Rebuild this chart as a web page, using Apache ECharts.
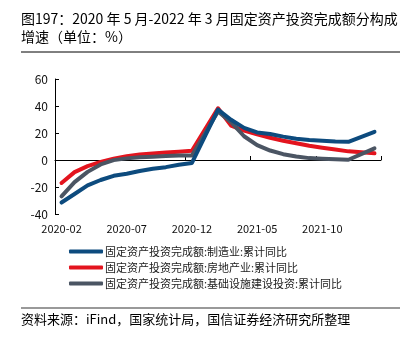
<!DOCTYPE html>
<html>
<head>
<meta charset="utf-8">
<script src="https://cdn.jsdelivr.net/npm/echarts@6/dist/echarts.min.js"></script>
<style>
html,body{margin:0;padding:0;background:#fff;}
#chart{width:414px;height:357px;}
</style>
</head>
<body>
<div id="chart"></div>
<script>
var titleLine1 = '图197：2020 年 5 月-2022 年 3 月固定资产投资完成额分构成';
var titleLine2 = '增速（单位：%）';
var sourceText = '资料来源：iFind，国家统计局，国信证券经济研究所整理';

var months = ['2020-02','2020-03','2020-04','2020-05','2020-06','2020-07','2020-08','2020-09','2020-10','2020-11','2020-12',
  '2021-01','2021-02','2021-03','2021-04','2021-05','2021-06','2021-07','2021-08','2021-09','2021-10','2021-11','2021-12',
  '2022-01','2022-02'];

var seriesNames = ['固定资产投资完成额:制造业:累计同比','固定资产投资完成额:房地产业:累计同比','固定资产投资完成额:基础设施建设投资:累计同比'];

var manufacturing = [-31.5,-25.2,-18.8,-14.8,-11.7,-10.2,-8.1,-6.5,-5.3,-3.5,-2.2,
  null,37.3,29.8,23.8,20.4,19.2,17.3,15.7,14.8,14.2,13.7,13.5,
  null,20.9];
var realEstate = [-17.0,-9.0,-4.5,-1.5,1.0,2.8,4.0,4.8,5.6,6.2,6.8,
  null,38.3,25.5,21.8,19.0,16.5,14.3,12.4,10.5,9.0,7.7,6.4,
  null,5.0];
var infrastructure = [-26.9,-16.4,-8.8,-3.3,-0.1,1.2,2.0,2.4,3.0,3.3,3.4,
  null,36.0,28.0,17.6,11.0,7.0,4.3,2.6,1.4,0.9,0.5,0.2,
  null,8.6];

var yTicks = {min:-40, max:60, interval:20};
var colors = ['#0d4b7e','#e3141e','#4b5563'];

var font = '"Noto Sans CJK SC", "Noto Sans", sans-serif';
var chart = echarts.init(document.getElementById('chart'), null, {renderer:'canvas'});

function mk(name, data, color, z){
  return {name:name, type:'line', data:data, xAxisIndex:0, yAxisIndex:0,
    connectNulls:true, showSymbol:false, symbol:'none', smooth:false, z:z,
    lineStyle:{width:4, color:color, cap:'round', join:'round'}, itemStyle:{color:color}};
}

chart.setOption({
  animation:false,
  textStyle:{fontFamily:font},
  grid:{left:55, right:33, top:79, bottom:143, containLabel:false},
  graphic:[
    {type:'text', left:21, top:12, style:{text:titleLine1, font:'14px '+font, fill:'#000'}},
    {type:'text', left:21, top:30, style:{text:titleLine2, font:'14px '+font, fill:'#000'}},
    {type:'line', shape:{x1:21, y1:52, x2:400, y2:52}, style:{stroke:'#000', lineWidth:1}},
    {type:'line', shape:{x1:21, y1:308, x2:400, y2:308}, style:{stroke:'#999', lineWidth:2}},
    {type:'text', left:21, top:313, style:{text:sourceText, font:'13px '+font, fill:'#000'}}
  ],
  legend:{
    orient:'vertical', left:64, top:241, itemWidth:34, itemHeight:4, itemGap:5,
    icon:'roundRect',
    data:seriesNames,
    textStyle:{fontSize:11, color:'#222', fontFamily:font, padding:[0,0,0,-3]}
  },
  xAxis:[
    {type:'category', data:months, boundaryGap:true, position:'bottom',
      axisLine:{show:false, onZero:false}, axisTick:{show:false},
      axisLabel:{interval:4, fontSize:11, color:'#111', margin:9, fontFamily:font}},
    {type:'category', data:months, boundaryGap:true, position:'bottom',
      axisLine:{show:true, onZero:true, lineStyle:{color:'#000', width:1}},
      axisTick:{show:true, inside:true, interval:4, length:4, lineStyle:{color:'#000'}},
      axisLabel:{show:false}}
  ],
  yAxis:{type:'value', min:yTicks.min, max:yTicks.max, interval:yTicks.interval,
    axisLine:{show:true, lineStyle:{color:'#000', width:1}},
    axisTick:{show:true, inside:true, length:4, lineStyle:{color:'#000'}},
    axisLabel:{fontSize:12, color:'#111', margin:7, fontFamily:font},
    splitLine:{show:false}},
  series:[
    mk(seriesNames[0], manufacturing, colors[0], 4),
    mk(seriesNames[1], realEstate, colors[1], 2),
    mk(seriesNames[2], infrastructure, colors[2], 3)
  ]
});
</script>
</body>
</html>
